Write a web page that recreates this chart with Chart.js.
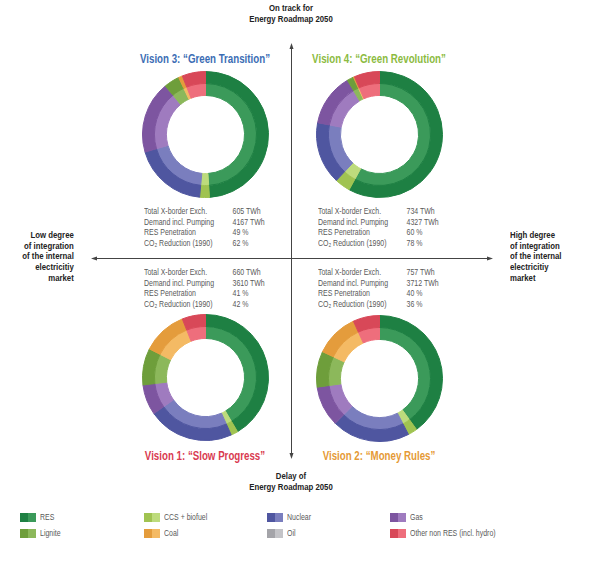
<!DOCTYPE html>
<html>
<head>
<meta charset="utf-8">
<script src="https://cdn.jsdelivr.net/npm/chart.js@4.4.0/dist/chart.umd.min.js"></script>
<style>
  body { margin: 0; background: #fff; }
  #page { position: relative; width: 600px; height: 567px; overflow: hidden;
          font-family: "Liberation Sans", Arial, sans-serif; }
  .ring { position: absolute; }
  .title { position: absolute; font-weight: bold; font-size: 12px; white-space: nowrap;
           transform: translate(-50%, -50%) scaleX(0.81); }
  .stats { position: absolute; font-size: 8.5px; color: #595959; line-height: 10.5px; white-space: nowrap;
           transform: scaleX(0.82); transform-origin: left top; }
  .stats span { display: inline-block; }
  .axis { position: absolute; font-weight: bold; font-size: 9.5px; color: #222; line-height: 10.7px; white-space: nowrap; }
  .legend { position: absolute; font-size: 8.5px; color: #595959; white-space: nowrap; line-height: 9px; }
  .legend i { display: inline-block; width: 8px; height: 9px; vertical-align: top; }
  .legend span { display: inline-block; margin-left: 4px; transform: scaleX(0.82); transform-origin: left top; }
  svg { position: absolute; left: 0; top: 0; }
</style>
</head>
<body>
<div id="page">
  <svg width="600" height="567" id="axes"></svg>
</div>
<script>
// energy sources, in drawing order (clockwise from 12 o'clock)
var sources = ['RES', 'CCS + biofuel', 'Nuclear', 'Gas', 'Lignite', 'Coal', 'Oil', 'Other non RES (incl. hydro)'];
var outerColors = ['#1e8043', '#a0c351', '#4f56a0', '#7d55a0', '#6e9e3b', '#e49c3c', '#a4a4a9', '#d84858'];
var innerColors = ['#3b9a5a', '#bddb7c', '#7a7ebe', '#9f7bbf', '#8cb85b', '#f4ba64', '#c4c4c8', '#ee6e7c'];

// generation shares (%)
var vision1 = [41.5, 1.8, 22, 7.8, 9.4, 11.5, 0, 6];
var vision2 = [40, 2.4, 20, 10.4, 9.2, 11.2, 0, 6.8];
var vision3 = [49, 2.5, 19, 18.5, 4, 1, 0, 6];
var vision4 = [58, 4, 16, 13.5, 1.7, 0.3, 0, 6.5];

var statLabels = ['Total X-border Exch.', 'Demand incl. Pumping', 'RES Penetration', 'CO\u2082 Reduction (1990)'];
var stats1 = ['660 TWh', '3610 TWh', '41 %', '42 %'];
var stats2 = ['757 TWh', '3712 TWh', '40 %', '36 %'];
var stats3 = ['605 TWh', '4167 TWh', '49 %', '62 %'];
var stats4 = ['734 TWh', '4327 TWh', '60 %', '78 %'];

var page = document.getElementById('page');

var visions = [
    { title: 'Vision 3: \u201cGreen Transition\u201d', color: '#3b6db4', data: vision3, stats: stats3,
      cx: 205, cy: 134, ty: 59, sx: 144, sy: 206 },
    { title: 'Vision 4: \u201cGreen Revolution\u201d', color: '#8cbb3f', data: vision4, stats: stats4,
      cx: 379, cy: 134, ty: 59, sx: 318, sy: 206 },
    { title: 'Vision 1: \u201cSlow Progress\u201d', color: '#d93a50', data: vision1, stats: stats1,
      cx: 205, cy: 377, ty: 456, sx: 144, sy: 267 },
    { title: 'Vision 2: \u201cMoney Rules\u201d', color: '#e59a36', data: vision2, stats: stats2,
      cx: 379, cy: 378, ty: 456, sx: 318, sy: 267 }
];

var size = 127;

visions.forEach(function (v) {
    var canvas = document.createElement('canvas');
    canvas.className = 'ring';
    canvas.width = size;
    canvas.height = size;
    canvas.style.width = size + 'px';
    canvas.style.height = size + 'px';
    canvas.style.left = (v.cx - size / 2) + 'px';
    canvas.style.top = (v.cy - size / 2) + 'px';
    page.appendChild(canvas);

    // outer ring dark, inner ring light; border in the same colour hides seams
    new Chart(canvas.getContext('2d'), {
        type: 'doughnut',
        data: {
            labels: sources,
            datasets: [
                { data: v.data, backgroundColor: outerColors, borderColor: outerColors, borderWidth: 1, hoverOffset: 0 },
                { data: v.data, backgroundColor: innerColors, borderColor: innerColors, borderWidth: 1, hoverOffset: 0 }
            ]
        },
        options: {
            responsive: false,
            animation: false,
            cutout: '62%',
            events: [],
            layout: { padding: 0 },
            plugins: {
                legend: { display: false },
                tooltip: { enabled: false }
            }
        }
    });

    var t = document.createElement('div');
    t.className = 'title';
    t.style.color = v.color;
    t.style.left = v.cx + 'px';
    t.style.top = v.ty + 'px';
    t.textContent = v.title;
    page.appendChild(t);

    var s = document.createElement('div');
    s.className = 'stats';
    s.style.left = v.sx + 'px';
    s.style.top = v.sy + 'px';
    s.innerHTML = statLabels.map(function (l, i) {
        return '<span style="width:108px">' + l + '</span><span>' + v.stats[i] + '</span>';
    }).join('<br>');
    page.appendChild(s);
});

// axis captions
function caption(lines, css) {
    var d = document.createElement('div');
    d.className = 'axis';
    for (var k in css) d.style[k] = css[k];
    d.innerHTML = lines.join('<br>');
    page.appendChild(d);
}
caption(['On track for', 'Energy Roadmap 2050'], { left: '291px', top: '3px', transform: 'translateX(-50%) scaleX(0.82)', textAlign: 'center' });
caption(['Delay of', 'Energy Roadmap 2050'], { left: '291px', top: '471px', transform: 'translateX(-50%) scaleX(0.82)', textAlign: 'center' });
caption(['Low degree', 'of integration', 'of the internal', 'electricitiy', 'market'],
    { right: '526px', top: '230px', textAlign: 'right', transform: 'scaleX(0.82)', transformOrigin: 'right top' });
caption(['High degree', 'of integration', 'of the internal', 'electricitiy', 'market'],
    { left: '510px', top: '230px', textAlign: 'left', transform: 'scaleX(0.82)', transformOrigin: 'left top' });

// arrows
var svg = document.getElementById('axes');
svg.innerHTML =
    '<line x1="94" y1="258.5" x2="490" y2="258.5" stroke="#444" stroke-width="1"/>' +
    '<line x1="291.5" y1="46" x2="291.5" y2="456" stroke="#444" stroke-width="1"/>' +
    '<path d="M91,258.5 L97,256.5 L97,260.5 Z" fill="#444"/>' +
    '<path d="M493,258.5 L487,256.5 L487,260.5 Z" fill="#444"/>' +
    '<path d="M291.5,43 L289.5,49 L293.5,49 Z" fill="#444"/>' +
    '<path d="M291.5,459 L289.5,453 L293.5,453 Z" fill="#444"/>';

// legend, 4 columns x 2 rows
var legendCols = [20, 144, 267, 390];
var legendRows = [513, 529];
sources.forEach(function (name, n) {
    var d = document.createElement('div');
    d.className = 'legend';
    d.style.left = legendCols[n % 4] + 'px';
    d.style.top = legendRows[Math.floor(n / 4)] + 'px';
    d.innerHTML = '<i style="background:' + outerColors[n] + '"></i><i style="background:' + innerColors[n] +
        '"></i><span>' + name + '</span>';
    page.appendChild(d);
});
</script>
</body>
</html>
